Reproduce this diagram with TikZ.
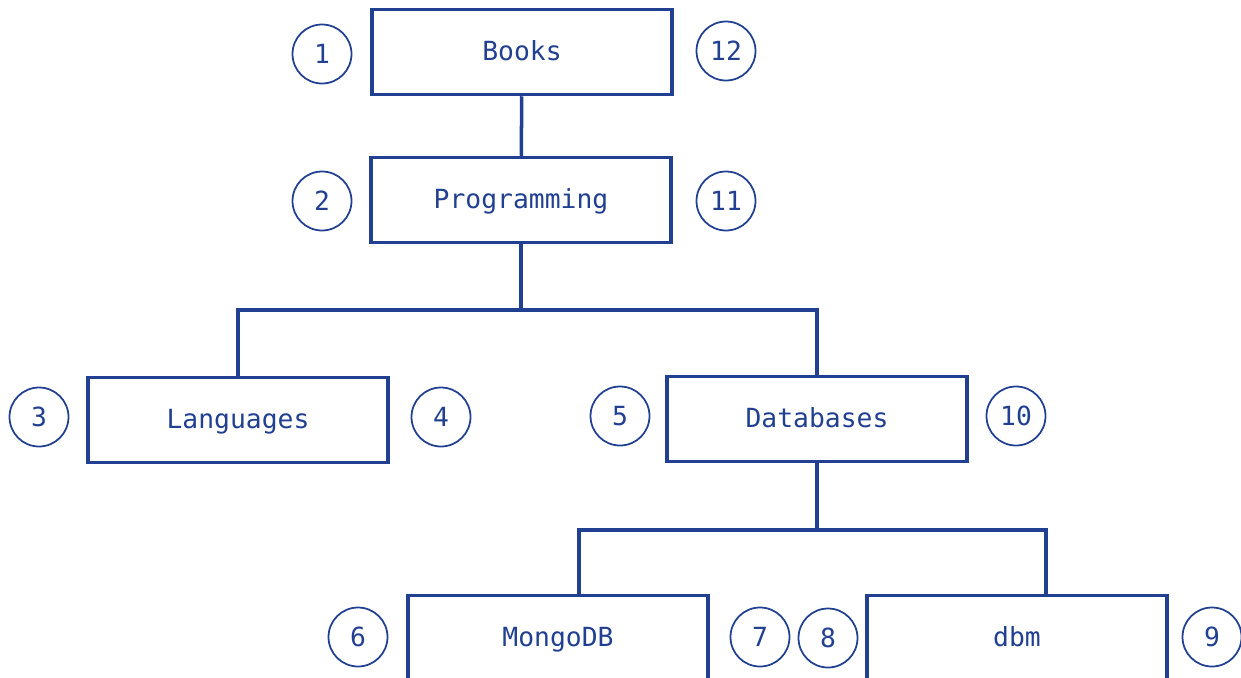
\documentclass[tikz,border=0pt]{standalone}
\usepackage{fontspec}
\setmonofont{DejaVu Sans Mono}
\usetikzlibrary{positioning}
\definecolor{treeblue}{RGB}{33, 64, 145}

\tikzset{
  catbox/.style={draw=treeblue, line width=2pt, minimum width=6cm, minimum height=1.7cm,
    text height=11pt, text depth=1pt,
    font=\ttfamily\fontsize{15}{18}\selectfont, text=treeblue},
  stepnum/.style={draw=treeblue, line width=1pt, circle, minimum size=1.18cm, inner sep=0pt,
    font=\ttfamily\fontsize{15}{18}\selectfont, text=treeblue},
  branch/.style={draw=treeblue, line width=2pt}
}

\begin{document}
\begin{tikzpicture}[x=0.02cm, y=-0.02cm]
  \useasboundingbox[fill=white] (0,0) rectangle (1241,677);
  \clip (0,0) rectangle (1241,677);

  % category boxes
  \node[catbox] (books) at (522, 52) {Books};
  \node[catbox] (prog) at (521, 200) {Programming};
  \node[catbox] (lang) at (238, 420) {Languages};
  \node[catbox] (db) at (817, 419) {Databases};
  \node[catbox] (mongo) at (558, 638) {MongoDB};
  \node[catbox] (dbm) at (1017, 638) {dbm};

  % visit order
  \node[stepnum] (n1) at (322, 54) {1};
  \node[stepnum] (n12) at (726, 51) {12};
  \node[stepnum] (n2) at (322, 201) {2};
  \node[stepnum] (n11) at (726, 201) {11};
  \node[stepnum] (n3) at (39, 417) {3};
  \node[stepnum] (n4) at (441, 417) {4};
  \node[stepnum] (n5) at (620, 416) {5};
  \node[stepnum] (n10) at (1016, 416) {10};
  \node[stepnum] (n6) at (358, 637) {6};
  \node[stepnum] (n7) at (760, 637) {7};
  \node[stepnum] (n8) at (828, 638) {8};
  \node[stepnum] (n9) at (1212, 637) {9};

  % tree edges
  \coordinate (split1) at (521, 310);
  \coordinate (split2) at (817, 530);
  \draw[branch] (books) -- (prog);
  \draw[branch] (prog) -- (split1);
  \draw[branch] (split1) -| (lang.north);
  \draw[branch] (split1) -| (db.north);
  \draw[branch] (db) -- (split2);
  \draw[branch] (split2) -| ([xshift=0.42cm]mongo.north);
  \draw[branch] (split2) -| ([xshift=0.58cm]dbm.north);
\end{tikzpicture}
\end{document}
